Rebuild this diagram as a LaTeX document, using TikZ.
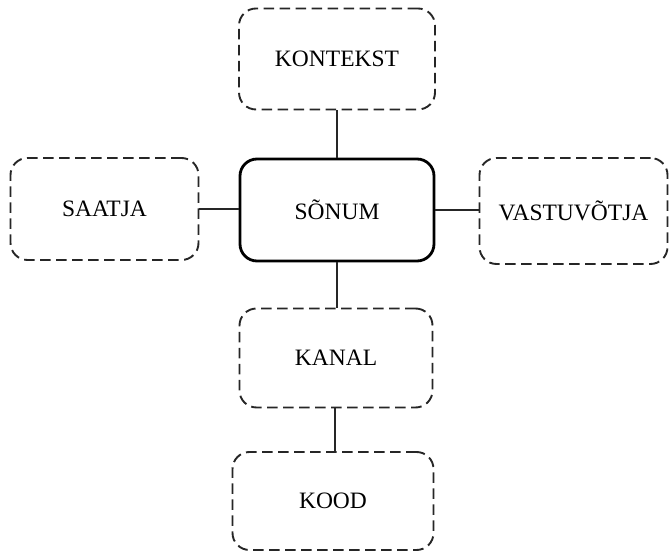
\documentclass[tikz,border=0pt]{standalone}
\usepackage{fontspec}
\setmainfont{Liberation Serif}
\begin{document}
\begin{tikzpicture}[x=1pt,y=1pt,
  box/.style={rounded corners=17pt, draw=black!85, line width=1.9pt,
    dash pattern=on 10.5pt off 5.5pt, align=center, inner sep=0pt,
    font=\fontsize{23.5}{26}\selectfont},
  mainbox/.style={box, solid, line width=2.8pt, draw=black},
  link/.style={draw=black!85, line width=1.8pt}]
  \useasboundingbox (0,0) rectangle (669,551);
  % central message and its surroundings
  \node[mainbox, minimum width=194pt, minimum height=102pt] (sonum) at (337,341) {SÕNUM};
  \node[box, minimum width=196pt, minimum height=101pt] (kontekst) at (337,492) {KONTEKST};
  \node[box, minimum width=188pt, minimum height=102pt] (saatja) at (104.5,342) {SAATJA};
  \node[box, minimum width=188pt, minimum height=106pt] (vastuvotja) at (573.5,340) {VASTUVÕTJA};
  \node[box, minimum width=193pt, minimum height=99pt] (kanal) at (336,193) {KANAL};
  \node[box, minimum width=201pt, minimum height=98pt] (kood) at (333,50) {KOOD};
  % connections
  \draw[link] (kontekst.south) -- (kontekst.south |- sonum.north);
  \draw[link] (saatja.east) -- (saatja.east -| sonum.west);
  \draw[link] (sonum.east) -- (sonum.east -| vastuvotja.west);
  \draw[link] (sonum.south) -- (sonum.south |- kanal.north);
  \draw[link] ([xshift=-1pt]kanal.south) -- ([xshift=-1pt]kanal.south |- kood.north);
\end{tikzpicture}
\end{document}
